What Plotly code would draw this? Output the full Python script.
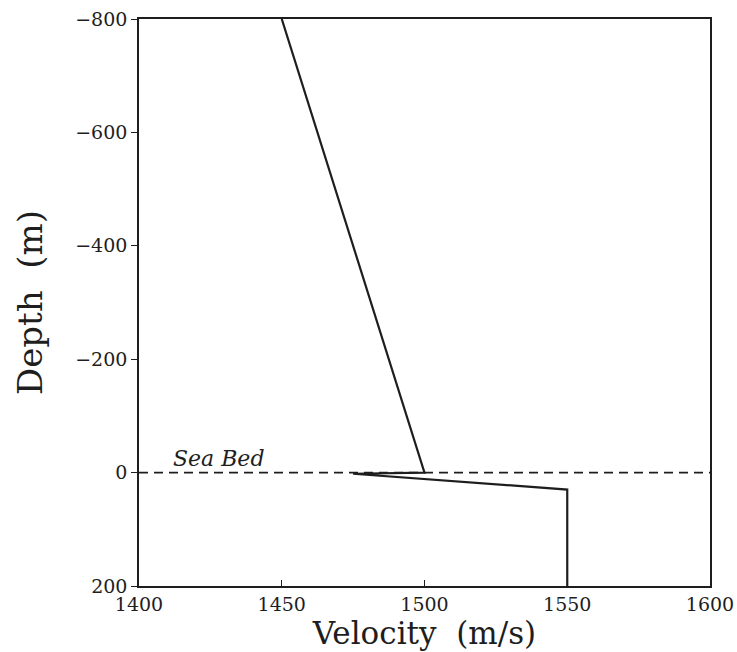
import plotly.graph_objects as go

# Data
velocity = [1450, 1500, 1475, 1550, 1550]
depth = [-800, 0, 2, 30, 200]
seabed_x = [1400, 1600]
seabed_y = [0, 0]
x_ticks = [1400, 1450, 1500, 1550, 1600]
y_ticks = [-800, -600, -400, -200, 0, 200]
y_ticktext = ["\u2212800", "\u2212600", "\u2212400", "\u2212200", "0", "200"]

serif = "DejaVu Serif"
ink = "#1e1e1e"

fig = go.Figure()
fig.add_trace(go.Scatter(x=seabed_x, y=seabed_y, mode="lines",
                         line=dict(color=ink, width=1.8, dash="9px,6px"),
                         showlegend=False, hoverinfo="skip"))
fig.add_trace(go.Scatter(x=velocity, y=depth, mode="lines",
                         line=dict(color=ink, width=2.2),
                         showlegend=False))

fig.add_annotation(x=1428, y=-25, text="<i>Sea Bed</i>", showarrow=False,
                   font=dict(family=serif, size=22, color=ink))

fig.update_layout(
    width=737, height=652,
    margin=dict(l=139, r=27, t=19, b=66),
    paper_bgcolor="white", plot_bgcolor="white",
    xaxis=dict(range=[1400, 1600], tickvals=x_ticks, ticks="inside", ticklen=6,
               tickwidth=1.4, tickcolor=ink, automargin=False,
               showline=True, linecolor=ink, linewidth=1.6, mirror=True,
               showgrid=False, zeroline=False,
               tickfont=dict(family=serif, size=19, color=ink),
               title=dict(text="Velocity\u00a0 (m/s)", font=dict(family=serif, size=31, color=ink),
                          standoff=3)),
    yaxis=dict(range=[200, -800], tickvals=y_ticks, ticktext=y_ticktext,
               ticks="outside", ticklen=6, tickwidth=1.4, tickcolor=ink, automargin=False,
               showline=True, linecolor=ink, linewidth=1.6, mirror=True,
               showgrid=False, zeroline=False,
               tickfont=dict(family=serif, size=19, color=ink),
               title=dict(text="Depth\u00a0 (m)", font=dict(family=serif, size=34, color=ink),
                          standoff=22)),
)

fig.write_html("out.html", config={"displayModeBar": False},
               post_script="document.body.style.margin='0px';")
